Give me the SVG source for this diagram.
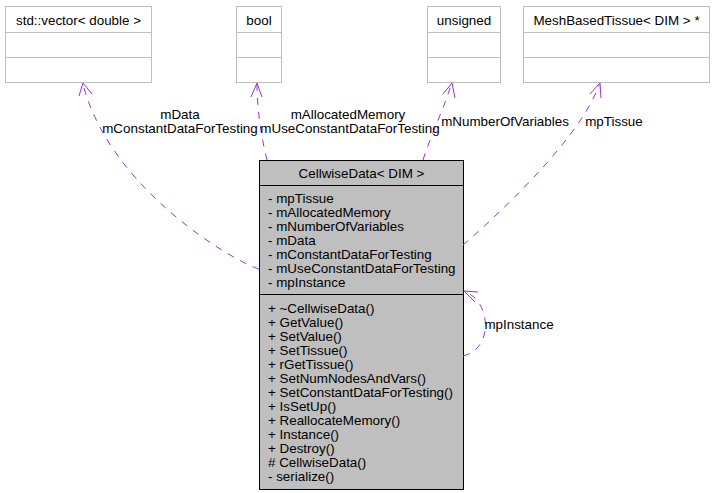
<svg xmlns="http://www.w3.org/2000/svg" width="715" height="493" viewBox="0 0 715 493">
<style>
text{font-family:"Liberation Sans",Arial,sans-serif;font-size:13.4px;fill:#000}
.c{text-anchor:middle}
.ext{fill:#fff;stroke:#bfbfbf;stroke-width:1}
.main{fill:#bfbfbf;stroke:#000;stroke-width:1}
.sep{stroke:#000;stroke-width:1}
.sepg{stroke:#bfbfbf;stroke-width:1}
.e{fill:none;stroke:#9a32cd;stroke-width:1;stroke-dasharray:7,7}
.ah{fill:none;stroke:#9a32cd;stroke-width:1}
</style>
<rect width="715" height="493" fill="#fff"/>
<g id="node-vector">
<rect class="ext" x="5.5" y="6.5" width="146" height="76"/>
<line class="sepg" x1="5.5" y1="32.5" x2="151.5" y2="32.5"/>
<line class="sepg" x1="5.5" y1="57.5" x2="151.5" y2="57.5"/>
<text class="c" x="78.5" y="25">std::vector&lt; double &gt;</text>
</g>
<g id="node-bool">
<rect class="ext" x="236.5" y="6.5" width="45" height="76"/>
<line class="sepg" x1="236.5" y1="32.5" x2="281.5" y2="32.5"/>
<line class="sepg" x1="236.5" y1="57.5" x2="281.5" y2="57.5"/>
<text class="c" x="259" y="25">bool</text>
</g>
<g id="node-unsigned">
<rect class="ext" x="427.5" y="6.5" width="73" height="76"/>
<line class="sepg" x1="427.5" y1="32.5" x2="500.5" y2="32.5"/>
<line class="sepg" x1="427.5" y1="57.5" x2="500.5" y2="57.5"/>
<text class="c" x="464" y="25">unsigned</text>
</g>
<g id="node-tissue">
<rect class="ext" x="523.5" y="6.5" width="186" height="76"/>
<line class="sepg" x1="523.5" y1="32.5" x2="709.5" y2="32.5"/>
<line class="sepg" x1="523.5" y1="57.5" x2="709.5" y2="57.5"/>
<text class="c" x="616.5" y="25">MeshBasedTissue&lt; DIM &gt; *</text>
</g>
<g id="node-cellwisedata">
<rect class="main" x="259.5" y="160.5" width="204" height="329"/>
<line class="sep" x1="259.5" y1="185.5" x2="463.5" y2="185.5"/>
<line class="sep" x1="259.5" y1="294.5" x2="463.5" y2="294.5"/>
<text class="c" x="361.5" y="178">CellwiseData&lt; DIM &gt;</text>
<text x="268" y="203">- mpTissue</text>
<text x="268" y="217">- mAllocatedMemory</text>
<text x="268" y="231">- mNumberOfVariables</text>
<text x="268" y="245">- mData</text>
<text x="268" y="259">- mConstantDataForTesting</text>
<text x="268" y="273">- mUseConstantDataForTesting</text>
<text x="268" y="287">- mpInstance</text>
<text x="268" y="313">+ ~CellwiseData()</text>
<text x="268" y="327">+ GetValue()</text>
<text x="268" y="341">+ SetValue()</text>
<text x="268" y="355">+ SetTissue()</text>
<text x="268" y="369">+ rGetTissue()</text>
<text x="268" y="383">+ SetNumNodesAndVars()</text>
<text x="268" y="397">+ SetConstantDataForTesting()</text>
<text x="268" y="411">+ IsSetUp()</text>
<text x="268" y="425">+ ReallocateMemory()</text>
<text x="268" y="439">+ Instance()</text>
<text x="268" y="453">+ Destroy()</text>
<text x="268" y="467"># CellwiseData()</text>
<text x="268" y="481">- serialize()</text>
</g>
<g id="connectors">
<path class="e" d="M259,269 C235,262 110,190 83,84"/>
<path class="ah" d="M79,96 L83,83 L92,94"/>
<path class="e" d="M267,160 C262,140 257,112 257,84"/>
<path class="ah" d="M251,97 L257,83 L262,97"/>
<path class="e" d="M423,160 C432,132 445,106 451,85"/>
<path class="ah" d="M443,94 L452,83 L455,98"/>
<path class="e" d="M463,245 C490,222 580,140 599,85"/>
<path class="ah" d="M590,94 L600,83 L601,98"/>
<path class="e" d="M463,356 C495,348 490,300 465,292"/>
<path class="ah" d="M478,292 L464,291 L475,302"/>
<text class="c" x="180" y="119">mData</text>
<text class="c" x="180" y="133">mConstantDataForTesting</text>
<text class="c" x="348" y="119">mAllocatedMemory</text>
<text class="c" x="350" y="133">mUseConstantDataForTesting</text>
<text class="c" x="505" y="126">mNumberOfVariables</text>
<text class="c" x="614" y="126">mpTissue</text>
<text class="c" x="519" y="329">mpInstance</text>
</g>
</svg>
